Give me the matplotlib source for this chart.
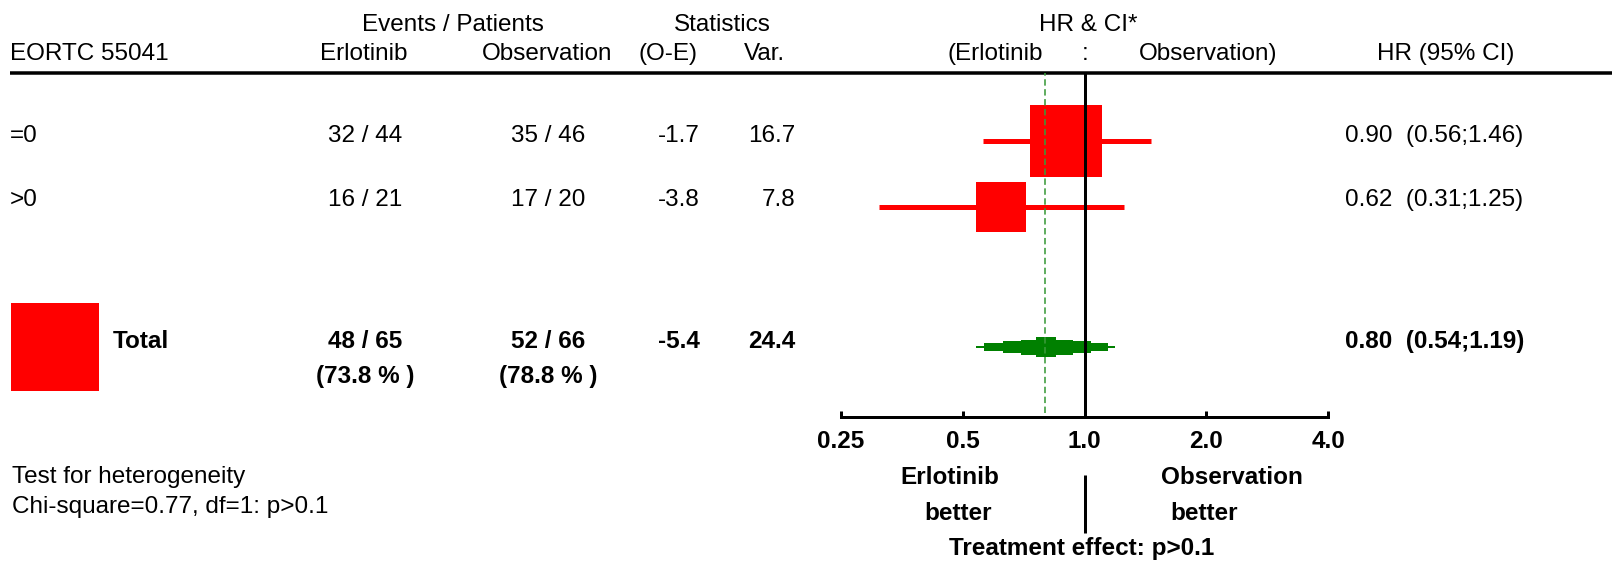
import matplotlib
matplotlib.use("Agg")
import matplotlib.pyplot as plt
import numpy as np

# ---- data ---------------------------------------------------------------
subgroups = ["=0", ">0"]
erl_events = [32, 16]
erl_patients = [44, 21]
obs_events = [35, 17]
obs_patients = [46, 20]
o_minus_e = [-1.7, -3.8]
variance = [16.7, 7.8]
hr = [0.90, 0.62]
ci_low = [0.56, 0.31]
ci_high = [1.46, 1.25]

total_erl = (48, 65)
total_obs = (52, 66)
total_o_minus_e = -5.4
total_variance = 24.4
total_hr = 0.80
total_ci = (0.54, 1.19)

# nested confidence bands of the pooled estimate (outer to inner)
pooled_band_low = [0.54, 0.565, 0.627, 0.695, 0.76]
pooled_band_high = [1.19, 1.14, 1.035, 0.934, 0.848]

axis_ticks = [0.25, 0.5, 1.0, 2.0, 4.0]
axis_ticklabels = ["0.25", "0.5", "1.0", "2.0", "4.0"]

# ---- layout (pixel units, origin top-left) ------------------------------
W, H = 1612, 562
DPI = 100
PT = 72 / DPI  # points per pixel
FS = 17.5

row_y = [141, 207]
total_y = 347
row_base = [142, 206]
plot_left, plot_right = 841, 1328
plot_top, plot_bottom = 73, 417
box_scale = 17.86  # px per sqrt(variance)
band_half = [1, 4, 6, 7.5, 10]

RED = "#ff0000"
GREEN = "#008000"
LGREEN = "#3a9a3a"

plt.rcParams["font.family"] = ["Liberation Sans", "DejaVu Sans"]

fig = plt.figure(figsize=(W / DPI, H / DPI), dpi=DPI)

# canvas axes in pixel coordinates for the table part
cv = fig.add_axes([0, 0, 1, 1])
cv.set_xlim(0, W)
cv.set_ylim(H, 0)
cv.axis("off")


def txt(x, y, s, ha="left", bold=False):
    cv.text(x, y, s, ha=ha, va="baseline", fontsize=FS,
            fontweight="bold" if bold else "normal", color="black")


# headers
txt(453, 31, "Events / Patients", ha="center")
txt(722, 31, "Statistics", ha="center")
txt(1088, 31, "HR & CI*", ha="center")
txt(10, 60, "EORTC 55041")
txt(364, 60, "Erlotinib", ha="center")
txt(547, 60, "Observation", ha="center")
txt(668, 60, "(O-E)", ha="center")
txt(764, 60, "Var.", ha="center")
txt(995, 60, "(Erlotinib", ha="center")
txt(1085, 60, ":", ha="center")
txt(1208, 60, "Observation)", ha="center")
txt(1446, 60, "HR (95% CI)", ha="center")
cv.plot([10, W], [73, 73], color="black", lw=3.5 * PT, solid_capstyle="butt")

# subgroup rows
for i, name in enumerate(subgroups):
    b = row_base[i]
    txt(10, b, name)
    txt(365, b, f"{erl_events[i]} / {erl_patients[i]}", ha="center")
    txt(548, b, f"{obs_events[i]} / {obs_patients[i]}", ha="center")
    txt(700, b, f"{o_minus_e[i]:.1f}", ha="right")
    txt(795, b, f"{variance[i]:.1f}", ha="right")
    txt(1345, b, f"{hr[i]:.2f}  ({ci_low[i]:.2f};{ci_high[i]:.2f})")

# total row
total_side = box_scale * np.sqrt(total_variance) * PT
cv.scatter([55], [total_y], marker="s", s=total_side ** 2, color=RED, linewidths=0)
txt(113, 348, "Total", bold=True)
txt(365, 348, f"{total_erl[0]} / {total_erl[1]}", ha="center", bold=True)
txt(365, 383, f"({100 * total_erl[0] / total_erl[1]:.1f} % )", ha="center", bold=True)
txt(548, 348, f"{total_obs[0]} / {total_obs[1]}", ha="center", bold=True)
txt(548, 383, f"({100 * total_obs[0] / total_obs[1]:.1f} % )", ha="center", bold=True)
txt(700, 348, f"{total_o_minus_e:.1f}", ha="right", bold=True)
txt(795, 348, f"{total_variance:.1f}", ha="right", bold=True)
txt(1345, 348, f"{total_hr:.2f}  ({total_ci[0]:.2f};{total_ci[1]:.2f})", bold=True)

# footnotes
txt(12, 483, "Test for heterogeneity")
txt(12, 513, "Chi-square=0.77, df=1: p>0.1")
txt(950, 484, "Erlotinib", ha="center", bold=True)
txt(958, 520, "better", ha="center", bold=True)
txt(1232, 484, "Observation", ha="center", bold=True)
txt(1204, 520, "better", ha="center", bold=True)
txt(1082, 555, "Treatment effect: p>0.1", ha="center", bold=True)

# ---- forest plot axes ----------------------------------------------------
ax = fig.add_axes([plot_left / W, (H - plot_bottom) / H,
                   (plot_right - plot_left) / W, (plot_bottom - plot_top) / H])
ax.patch.set_alpha(0)
ax.set_xscale("log", base=2)
ax.set_xlim(axis_ticks[0], axis_ticks[-1])
ax.set_ylim(plot_bottom, plot_top)
for side in ("top", "left", "right"):
    ax.spines[side].set_visible(False)
ax.spines["bottom"].set_linewidth(3 * PT)
ax.set_yticks([])
ax.set_xticks(axis_ticks)
ax.set_xticklabels(axis_ticklabels, fontsize=FS, fontweight="bold")
ax.xaxis.set_minor_locator(matplotlib.ticker.NullLocator())
ax.tick_params(axis="x", direction="in", length=6 * PT, width=3 * PT, pad=9)

# reference lines
ax.vlines(1.0, plot_bottom, plot_top, color="black", lw=3 * PT, zorder=4)
ax.vlines(total_hr, plot_bottom - 4, plot_top, color=LGREEN, lw=1.6 * PT,
          linestyles=(0, (4, 2.2)), zorder=5)
ax.vlines(1.0, 475, 533, color="black", lw=3 * PT, clip_on=False)

# subgroup estimates
for i in range(len(subgroups)):
    ax.hlines(row_y[i], ci_low[i], ci_high[i], color=RED, lw=5 * PT, zorder=2)
    side = box_scale * np.sqrt(variance[i]) * PT
    ax.scatter([hr[i]], [row_y[i]], marker="s", s=side ** 2, color=RED,
               linewidths=0, zorder=3)

# pooled estimate as stacked bands
for lo, hi, hh in zip(pooled_band_low, pooled_band_high, band_half):
    ax.fill_between([lo, hi], total_y - hh, total_y + hh, color=GREEN,
                    linewidth=0, zorder=3)

fig.savefig("out.png", dpi=DPI)
